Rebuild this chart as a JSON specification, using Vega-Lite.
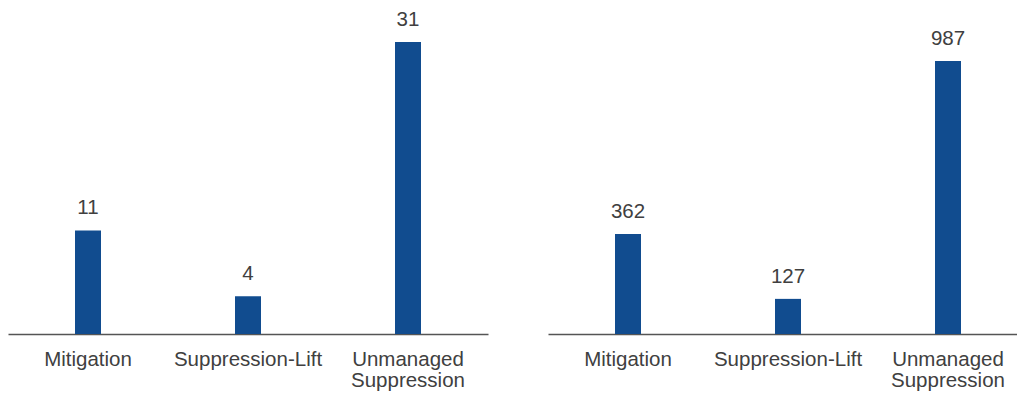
{
  "$schema": "https://vega.github.io/schema/vega-lite/v6.json",
  "padding": {"left": 8, "top": 5, "right": 0, "bottom": 0},
  "spacing": 60,
  "background": "white",
  "config": {
    "view": {"stroke": null},
    "font": "Liberation Sans",
    "axis": {"labelFont": "Liberation Sans", "labelFontSize": 20.5, "labelColor": "#404040"},
    "text": {"font": "Liberation Sans"}
  },
  "datasets": {
    "left": [
      {"category": "Mitigation", "value": 11},
      {"category": "Suppression-Lift", "value": 4},
      {"category": "Unmanaged Suppression", "value": 31}
    ],
    "right": [
      {"category": "Mitigation", "value": 362},
      {"category": "Suppression-Lift", "value": 127},
      {"category": "Unmanaged Suppression", "value": 987}
    ]
  },
  "hconcat": [
    {
      "data": {"name": "left"},
      "width": 480,
      "height": 329,
      "encoding": {
        "x": {
          "field": "category", "type": "nominal", "sort": null, "title": null,
          "axis": {
            "labelAngle": 0, "ticks": false, "domainColor": "#555555", "domainWidth": 1.5,
            "labelPadding": 15, "labelLineHeight": 21,
            "labelExpr": "datum.label == 'Unmanaged Suppression' ? ['Unmanaged', 'Suppression'] : datum.label"
          }
        },
        "y": {"field": "value", "type": "quantitative", "axis": null, "scale": {"domain": [0, 34.93]}}
      },
      "layer": [
        {"mark": {"type": "bar", "size": 26, "color": "#114C8F"}},
        {"mark": {"type": "text", "dy": -12, "baseline": "bottom", "fontSize": 20.5, "color": "#404040"}, "encoding": {"text": {"field": "value", "type": "quantitative"}}}
      ]
    },
    {
      "data": {"name": "right"},
      "width": 480,
      "height": 329,
      "encoding": {
        "x": {
          "field": "category", "type": "nominal", "sort": null, "title": null,
          "axis": {
            "labelAngle": 0, "ticks": false, "domainColor": "#555555", "domainWidth": 1.5,
            "labelPadding": 15, "labelLineHeight": 21,
            "labelExpr": "datum.label == 'Unmanaged Suppression' ? ['Unmanaged', 'Suppression'] : datum.label"
          }
        },
        "y": {"field": "value", "type": "quantitative", "axis": null, "scale": {"domain": [0, 1189.5]}}
      },
      "layer": [
        {"mark": {"type": "bar", "size": 26, "color": "#114C8F"}},
        {"mark": {"type": "text", "dy": -12, "baseline": "bottom", "fontSize": 20.5, "color": "#404040"}, "encoding": {"text": {"field": "value", "type": "quantitative"}}}
      ]
    }
  ]
}
